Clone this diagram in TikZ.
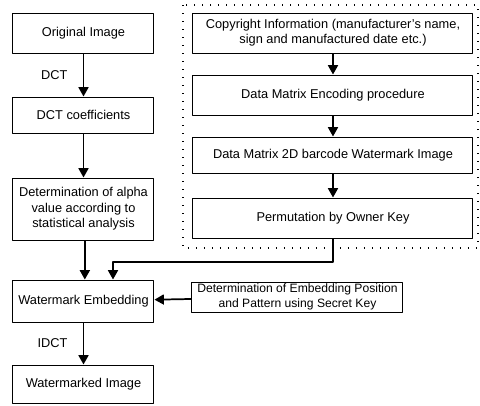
\documentclass[tikz,border=0pt]{standalone}
\usepackage{fontspec}
\setmainfont{Liberation Sans}
\usetikzlibrary{arrows.meta}
\tikzset{
	stepbox/.style={draw, line width=0.75pt, align=center, inner sep=1pt, font=\fontsize{9.6}{11.5}\selectfont},
	leftbox/.style={stepbox, minimum width=105.75pt},
	rightbox/.style={stepbox, minimum width=210pt},
	flow/.style={line width=1.3pt, -{Triangle[width=7.5pt,length=7pt]}},
	flowlabel/.style={left, font=\fontsize{9.6}{11.5}\selectfont, xshift=-8pt}
}
\begin{document}
\begin{tikzpicture}[x=0.75pt, y=-0.75pt, line join=round]
	\useasboundingbox (0,0) rectangle (480,405);
	% left column
	\node[leftbox, minimum height=30pt] (orig) at (83.5,33) {Original Image};
	\node[leftbox, minimum height=27pt] (dctc) at (83.5,115) {DCT coefficients};
	\node[leftbox, minimum height=46.5pt] (alpha) at (83.5,209) {Determination of alpha\\value according to\\statistical analysis};
	\node[leftbox, minimum height=31.5pt] (embed) at (83.5,301) {Watermark Embedding};
	\node[leftbox, minimum height=28.5pt] (marked) at (83.5,384) {Watermarked Image};
	% owner side
	\draw[line width=1pt, dash pattern=on 1pt off 5pt] (183,5) rectangle (478,248);
	\node[rightbox, minimum height=30pt] (copyr) at (333,33) {Copyright Information (manufacturer's name,\\sign and manufactured date etc.)};
	\node[rightbox, minimum height=30pt] (encode) at (333,95) {Data Matrix Encoding procedure};
	\node[rightbox, minimum height=27pt] (barcode) at (333,155) {Data Matrix 2D barcode Watermark Image};
	\node[rightbox, minimum height=30pt] (perm) at (333,218) {Permutation by Owner Key};
	\node[stepbox, font=\fontsize{9.1}{10.8}\selectfont, minimum width=158.25pt, minimum height=22.5pt] (secret) at (297.5,297) {Determination of Embedding Position\\and Pattern using Secret Key};
	\coordinate (bend) at (113,262);
	% arrows
	\draw[flow] (orig) -- node[flowlabel] {DCT} (dctc);
	\draw[flow] (dctc) -- (alpha);
	\draw[flow] ([xshift=1pt]alpha.south) -- ([xshift=1pt]embed.north);
	\draw[flow] (copyr) -- (encode);
	\draw[flow] (encode) -- (barcode);
	\draw[flow] (barcode) -- (perm);
	\draw[flow] (perm.south) |- (bend) -- (bend |- embed.north);
	\draw[flow] (secret) -- (embed);
	\draw[flow] (embed) -- node[flowlabel] {IDCT} (marked);
\end{tikzpicture}
\end{document}
